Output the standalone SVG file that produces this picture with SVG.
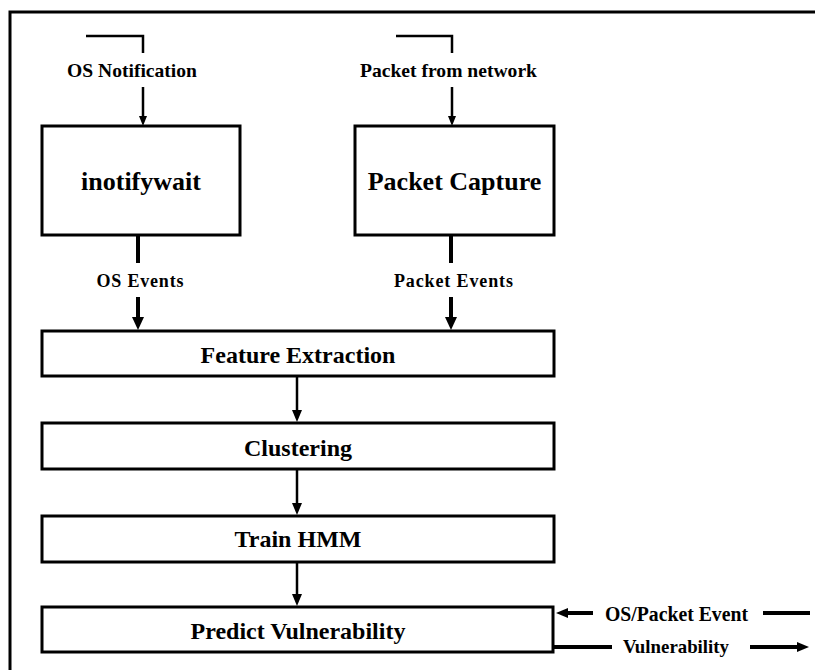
<svg xmlns="http://www.w3.org/2000/svg" width="815" height="670" viewBox="0 0 815 670">
<defs>
<style>
.box{fill:#fff;stroke:#000;stroke-width:3}
.t{font-family:"Liberation Serif","Times New Roman",serif;font-weight:bold;fill:#000;text-anchor:middle}
.ln{fill:none;stroke:#000;stroke-linecap:butt}
</style>
<marker id="hs" markerUnits="userSpaceOnUse" markerWidth="10" markerHeight="8" viewBox="0 0 10 8" refX="1" refY="4" orient="auto"><path d="M0,0 L10,4 L0,8 Z" fill="#000"/></marker>
<marker id="hm" markerUnits="userSpaceOnUse" markerWidth="12" markerHeight="10" viewBox="0 0 12 10" refX="1" refY="5" orient="auto"><path d="M0,0 L12,5 L0,10 Z" fill="#000"/></marker>
<marker id="hl" markerUnits="userSpaceOnUse" markerWidth="13" markerHeight="12" viewBox="0 0 13 12" refX="1" refY="6" orient="auto"><path d="M0,0 L13,6 L0,12 Z" fill="#000"/></marker>
</defs>
<rect width="815" height="670" fill="#fff"/>
<path class="ln" d="M10 672 V12 H817" stroke-width="3"/>

<g id="connectors">
<path class="ln" d="M86 36 H143 V53" stroke-width="2.5"/>
<line class="ln" x1="143" y1="87" x2="143" y2="117" stroke-width="2.5" marker-end="url(#hs)"/>
<path class="ln" d="M396 36 H452 V53" stroke-width="2.5"/>
<line class="ln" x1="452" y1="87" x2="452" y2="117" stroke-width="2.5" marker-end="url(#hs)"/>
<line class="ln" x1="138" y1="235" x2="138" y2="263" stroke-width="4"/>
<line class="ln" x1="138" y1="297" x2="138" y2="318" stroke-width="4" marker-end="url(#hl)"/>
<line class="ln" x1="451" y1="235" x2="451" y2="263" stroke-width="4"/>
<line class="ln" x1="451" y1="297" x2="451" y2="318" stroke-width="4" marker-end="url(#hl)"/>
<line class="ln" x1="297" y1="376" x2="297" y2="411" stroke-width="2.5" marker-end="url(#hm)"/>
<line class="ln" x1="297" y1="469" x2="297" y2="504" stroke-width="2.5" marker-end="url(#hm)"/>
<line class="ln" x1="297" y1="562" x2="297" y2="595" stroke-width="2.5" marker-end="url(#hm)"/>
<line class="ln" x1="763" y1="613" x2="810" y2="613" stroke-width="4"/>
<line class="ln" x1="593" y1="613" x2="567" y2="613" stroke-width="4" marker-end="url(#hm)"/>
<line class="ln" x1="553" y1="647" x2="612" y2="647" stroke-width="4"/>
<line class="ln" x1="750" y1="647" x2="798" y2="647" stroke-width="4" marker-end="url(#hm)"/>
<text class="t" x="132" y="77" font-size="19.5" textLength="130" lengthAdjust="spacingAndGlyphs">OS Notification</text>
<text class="t" x="448.5" y="77" font-size="19.5" textLength="177" lengthAdjust="spacingAndGlyphs">Packet from network</text>
<text class="t" x="140" y="287" font-size="18" textLength="87" lengthAdjust="spacing">OS Events</text>
<text class="t" x="453.5" y="287" font-size="18" textLength="119" lengthAdjust="spacing">Packet Events</text>
<text class="t" x="676.5" y="621" font-size="20" textLength="143" lengthAdjust="spacingAndGlyphs">OS/Packet Event</text>
<text class="t" x="676" y="653" font-size="19" textLength="106" lengthAdjust="spacingAndGlyphs">Vulnerability</text>
</g>

<g id="inotifywait">
<rect class="box" x="42" y="126" width="198" height="109"/>
<text class="t" x="141" y="190" font-size="26">inotifywait</text>
</g>
<g id="packet-capture">
<rect class="box" x="355" y="126" width="199" height="109"/>
<text class="t" x="454.5" y="190" font-size="26">Packet Capture</text>
</g>
<g id="feature-extraction">
<rect class="box" x="42" y="331" width="512" height="45"/>
<text class="t" x="298" y="363" font-size="24">Feature Extraction</text>
</g>
<g id="clustering">
<rect class="box" x="42" y="423" width="512" height="46"/>
<text class="t" x="298" y="456" font-size="24">Clustering</text>
</g>
<g id="train-hmm">
<rect class="box" x="42" y="516" width="512" height="46"/>
<text class="t" x="298" y="547" font-size="24">Train HMM</text>
</g>
<g id="predict-vulnerability">
<rect class="box" x="42" y="607" width="511" height="45"/>
<text class="t" x="298" y="639" font-size="24">Predict Vulnerability</text>
</g>
</svg>
